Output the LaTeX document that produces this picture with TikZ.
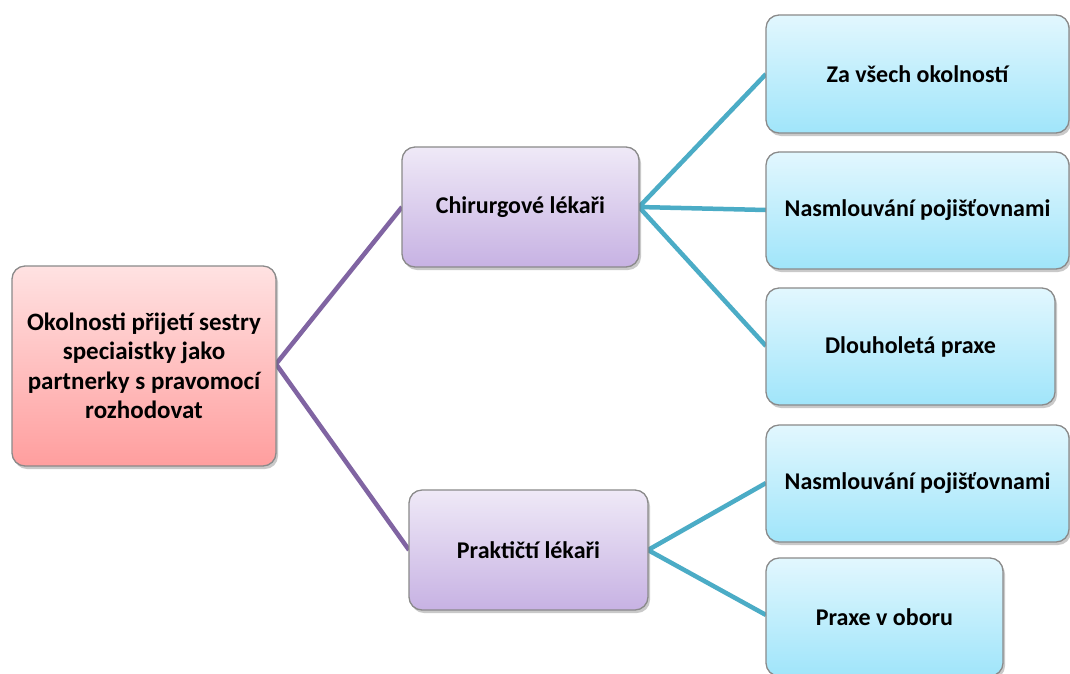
\documentclass[tikz,border=0pt]{standalone}
\usepackage{fontspec}
\setmainfont{Carlito}
\usetikzlibrary{shadows,positioning}
\definecolor{rootTop}{HTML}{FFE2E2}
\definecolor{rootBot}{HTML}{FF9E9E}
\definecolor{midTop}{HTML}{EFE9F7}
\definecolor{midBot}{HTML}{C7B2E3}
\definecolor{leafTop}{HTML}{E2F7FE}
\definecolor{leafBot}{HTML}{A0E5FA}
\definecolor{edgeGray}{HTML}{8A8A8A}
\definecolor{purpleLink}{HTML}{8064A2}
\definecolor{tealLink}{HTML}{4BACC6}
\tikzset{
  card/.style={draw=edgeGray, line width=1.3pt, rounded corners=13pt,
    align=center, inner sep=0pt,
    font=\fontsize{24}{29.5}\selectfont\bfseries,
    drop shadow={shadow xshift=2pt, shadow yshift=-3pt, opacity=0.35, fill=black!60}},
  rootcard/.style={card, top color=rootTop, bottom color=rootBot,
    font=\fontsize{25}{29.5}\selectfont\bfseries},
  midcard/.style={card, top color=midTop, bottom color=midBot},
  leafcard/.style={card, top color=leafTop, bottom color=leafBot},
  plink/.style={draw=purpleLink, line width=4.5pt},
  tlink/.style={draw=tealLink, line width=4.5pt},
}
\begin{document}
\begin{tikzpicture}[x=1pt,y=-1pt]
\useasboundingbox (0,0) rectangle (1070,673);
\clip (0,0) rectangle (1070,673);
\fill[white] (0,0) rectangle (1070,673);

% connectors, drawn first so the cards sit on top of their ends
\coordinate (rootE) at (276,364);
\coordinate (chirW) at (402,207);
\coordinate (prakW) at (409,550);
\coordinate (chirE) at (639,207);
\coordinate (prakE) at (648,550);
\coordinate (l1W) at (766,74);
\coordinate (l2W) at (766,210);
\coordinate (l3W) at (766,346);
\coordinate (l4W) at (766,483);
\coordinate (l5W) at (766,615);
\draw[plink] (rootE) -- (chirW);
\draw[plink] (rootE) -- (prakW);
\draw[tlink] (chirE) -- (l1W);
\draw[tlink] (chirE) -- (l2W);
\draw[tlink] (chirE) -- (l3W);
\draw[tlink] (prakE) -- (l4W);
\draw[tlink] (prakE) -- (l5W);

% cards
\node[rootcard, minimum width=264pt, minimum height=200pt]
  (root) at (144,366) {Okolnosti přijetí sestry\\speciaistky jako\\partnerky s pravomocí\\rozhodovat};
\node[midcard, minimum width=237pt, minimum height=120pt] (chir) at (520.5,207) {Chirurgové lékaři};
\node[midcard, minimum width=239pt, minimum height=120pt] (prak) at (528.5,550) {Praktičtí lékaři};
\node[leafcard, minimum width=303pt, minimum height=118pt] (l1) at (917.5,74) {Za všech okolností};
\node[leafcard, minimum width=303pt, minimum height=117pt] (l2) at (917.5,210.5) {Nasmlouvání pojišťovnami};
\node[leafcard, minimum width=289pt, minimum height=117pt] (l3) at (910.5,346.5) {Dlouholetá praxe};
\node[leafcard, minimum width=303pt, minimum height=117pt] (l4) at (917.5,483.5) {Nasmlouvání pojišťovnami};
\node[leafcard, minimum width=237pt, minimum height=118pt] (l5) at (884.5,617) {Praxe v oboru};
\end{tikzpicture}
\end{document}
